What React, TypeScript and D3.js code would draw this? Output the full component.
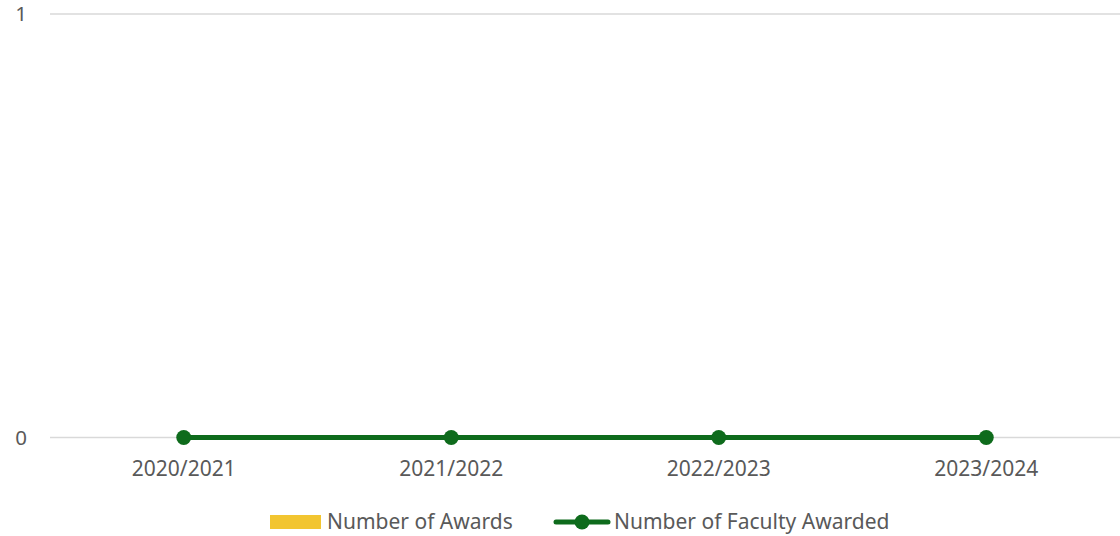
import React from "react";
import * as d3 from "d3";

const categories = ["2020/2021", "2021/2022", "2022/2023", "2023/2024"];
const numberOfAwards = [0, 0, 0, 0];
const facultyAwarded = [0, 0, 0, 0];
const yTicks = [0, 1];

const W = 1120;
const H = 536;
const FONT = "'Noto Sans', 'Open Sans', sans-serif";
const GREEN = "#0e6b1c";
const YELLOW = "#f2c530";
const TEXT = "#595959";

export default function App() {
  const x = d3.scaleBand<string>().domain(categories).range([50, 1120]).paddingInner(0.35).paddingOuter(0.175);
  const y = d3.scaleLinear().domain([0, 1]).range([437.5, 14]);
  const cx = (c: string) => (x(c) as number) + x.bandwidth() / 2;
  const line = d3
    .line<number>()
    .x((_, i) => cx(categories[i]))
    .y((d) => y(d));

  return (
    <svg width={W} height={H} style={{ position: "absolute", left: 0, top: 0 }}>
      <rect width={W} height={H} fill="#ffffff" />
      {yTicks.map((t) => (
        <g key={t}>
          <line x1={50} x2={1120} y1={y(t)} y2={y(t)} stroke="#d9d9d9" strokeWidth={1.5} />
          <text x={21} y={y(t)} dy="0.35em" textAnchor="middle" fontFamily={FONT} fontSize={20.5} fill={TEXT}>
            {t}
          </text>
        </g>
      ))}
      {numberOfAwards.map((v, i) => (
        <rect
          key={i}
          x={x(categories[i]) as number}
          width={x.bandwidth()}
          y={y(v)}
          height={y(0) - y(v)}
          fill={YELLOW}
        />
      ))}
      <path d={line(facultyAwarded) || ""} fill="none" stroke={GREEN} strokeWidth={5} strokeLinecap="round" />
      {facultyAwarded.map((v, i) => (
        <circle key={i} cx={cx(categories[i])} cy={y(v)} r={7.5} fill={GREEN} />
      ))}
      {categories.map((c) => (
        <text key={c} x={cx(c)} y={469} dy="0.35em" textAnchor="middle" fontFamily={FONT} fontSize={21} fill={TEXT}>
          {c}
        </text>
      ))}
      <g>
        <rect x={270} y={515} width={51} height={14} fill={YELLOW} />
        <text x={327} y={522} dy="0.35em" fontFamily={FONT} fontSize={21} fill={TEXT}>
          Number of Awards
        </text>
        <line x1={556} x2={608} y1={522} y2={522} stroke={GREEN} strokeWidth={5} strokeLinecap="round" />
        <circle cx={582} cy={522} r={7.5} fill={GREEN} />
        <text x={614} y={522} dy="0.35em" fontFamily={FONT} fontSize={21} fill={TEXT}>
          Number of Faculty Awarded
        </text>
      </g>
    </svg>
  );
}
